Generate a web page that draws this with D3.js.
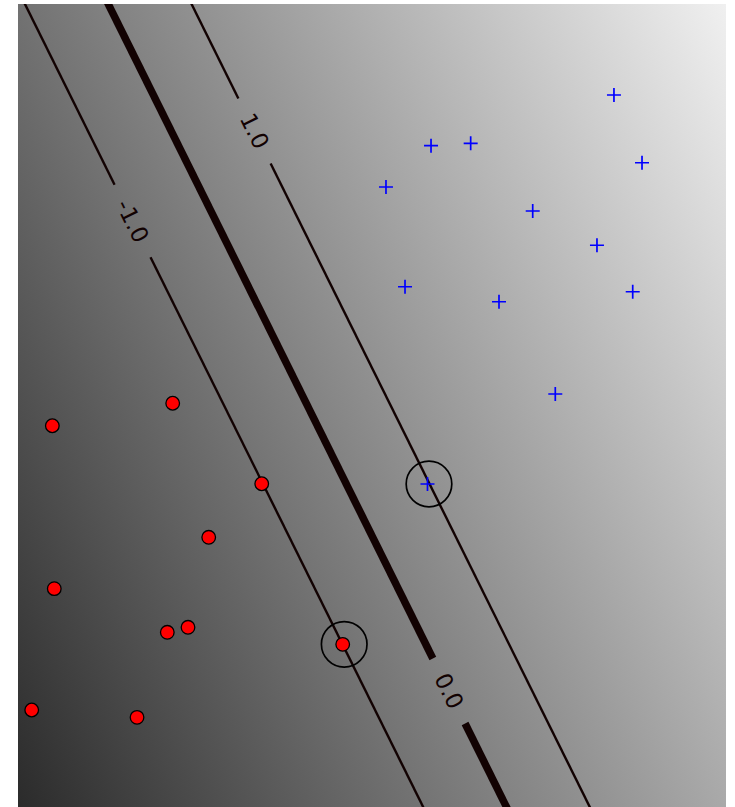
<!DOCTYPE html>
<html>
<head>
<meta charset="utf-8">
<script src="https://cdn.jsdelivr.net/npm/d3@7"></script>
<style>
  html, body { margin: 0; padding: 0; background: #fff; }
  svg { display: block; }
</style>
</head>
<body>
<svg id="chart" width="735" height="807"></svg>
<script>
// Class -1 samples (red dots)
const redX = [-3.612, -2.252, -1.246, -1.845, -3.590, -2.313, -2.079, -0.331, -3.845, -2.655];
const redY = [-0.227, 0.025, -0.877, -1.477, -2.053, -2.542, -2.486, -2.677, -3.413, -3.495];
// Class +1 samples (blue crosses)
const blueX = [2.734, 0.667, 1.115, 3.051, 0.158, 1.816, 2.542, 0.373, 1.435, 2.946, 2.071, 0.627];
const blueY = [3.480, 2.912, 2.939, 2.721, 2.449, 2.180, 1.796, 1.331, 1.163, 1.275, 0.129, -0.880];
// Support vectors
const supportX = [0.627, -0.331];
const supportY = [-0.880, -2.677];
// Linear decision function f(x, y) = coef[0]*x + coef[1]*y + intercept
const coef = [1.0624, 0.5312];
const intercept = 0.776;
// Contour levels and their labels, with the y position where each label sits
const levels = [-1, 0, 1];
const levelLabels = ["-1.0", "0.0", "1.0"];
const labelY = [2.068, -3.20, 3.077];
const levelWidths = [2.4, 7.5, 2.4];
// Range of the gray colour map
const colorDomain = [-8.77, 8.43];
const xDomain = [-4, 4];
const yDomain = [-4.5, 4.5];

const plot = { left: 18, top: 4, right: 726, bottom: 807 };
const svg = d3.select("#chart");

const x = d3.scaleLinear().domain(xDomain).range([plot.left, plot.right]);
const y = d3.scaleLinear().domain(yDomain).range([plot.bottom, plot.top]);
const gray = d3.scaleLinear().domain(colorDomain).range(["#000000", "#ffffff"]);

const decision = (px, py) => coef[0] * px + coef[1] * py + intercept;

const defs = svg.append("defs");
defs.append("clipPath").attr("id", "plot-clip")
  .append("rect")
  .attr("x", plot.left).attr("y", plot.top)
  .attr("width", plot.right - plot.left).attr("height", plot.bottom - plot.top);

// Background shading: the decision function is linear, so a linear gradient
// along its pixel-space gradient reproduces it exactly.
const cx = (plot.left + plot.right) / 2, cy = (plot.top + plot.bottom) / 2;
const f0 = decision(x.invert(cx), y.invert(cy));
const gx = coef[0] * (x.invert(cx + 1) - x.invert(cx));
const gy = coef[1] * (y.invert(cy + 1) - y.invert(cy));
const g2 = gx * gx + gy * gy;
const atValue = v => [cx + gx * (v - f0) / g2, cy + gy * (v - f0) / g2];
const p1 = atValue(colorDomain[0]), p2 = atValue(colorDomain[1]);

const grad = defs.append("linearGradient")
  .attr("id", "decision-fill")
  .attr("gradientUnits", "userSpaceOnUse")
  .attr("x1", p1[0]).attr("y1", p1[1])
  .attr("x2", p2[0]).attr("y2", p2[1]);
grad.append("stop").attr("offset", 0).attr("stop-color", gray(colorDomain[0]));
grad.append("stop").attr("offset", 1).attr("stop-color", gray(colorDomain[1]));

svg.append("rect")
  .attr("x", plot.left).attr("y", plot.top)
  .attr("width", plot.right - plot.left).attr("height", plot.bottom - plot.top)
  .attr("fill", "url(#decision-fill)");

const body = svg.append("g").attr("clip-path", "url(#plot-clip)");

// Contour lines of the decision function with inline labels
const lineColor = "#120202";
const contourG = body.append("g");
levels.forEach((lv, i) => {
  const xAt = yy => (lv - intercept - coef[1] * yy) / coef[0];
  const top = [x(xAt(yDomain[1] + 0.2)), y(yDomain[1] + 0.2)];
  const bot = [x(xAt(yDomain[0] - 0.2)), y(yDomain[0] - 0.2)];
  const dx = bot[0] - top[0], dy = bot[1] - top[1];
  const len = Math.hypot(dx, dy);
  const ux = dx / len, uy = dy / len;
  const angle = Math.atan2(dy, dx) * 180 / Math.PI;
  const c = [x(xAt(labelY[i])), y(labelY[i])];

  const label = contourG.append("text")
    .attr("transform", `translate(${c[0]},${c[1]}) rotate(${angle})`)
    .attr("text-anchor", "middle")
    .attr("dominant-baseline", "central")
    .attr("font-family", "DejaVu Sans, sans-serif")
    .attr("font-size", 23)
    .attr("fill", lineColor)
    .text(levelLabels[i]);
  const half = (label.node().getComputedTextLength() + 36) / 2;

  const segs = [
    [top, [c[0] - ux * half, c[1] - uy * half]],
    [[c[0] + ux * half, c[1] + uy * half], bot]
  ];
  segs.forEach(s => {
    contourG.append("line")
      .attr("x1", s[0][0]).attr("y1", s[0][1])
      .attr("x2", s[1][0]).attr("y2", s[1][1])
      .attr("stroke", lineColor)
      .attr("stroke-width", levelWidths[i]);
  });
});

// Red class points
body.append("g").selectAll("circle")
  .data(d3.range(redX.length))
  .join("circle")
  .attr("cx", i => x(redX[i]))
  .attr("cy", i => y(redY[i]))
  .attr("r", 6.8)
  .attr("fill", "#ff0000")
  .attr("stroke", "#000")
  .attr("stroke-width", 1.3);

// Blue class points
body.append("g").selectAll("path")
  .data(d3.range(blueX.length))
  .join("path")
  .attr("transform", i => `translate(${x(blueX[i])},${y(blueY[i])})`)
  .attr("d", "M-7,0H7M0,-7V7")
  .attr("fill", "none")
  .attr("stroke", "#0000ff")
  .attr("stroke-width", 1.7);

// Support vector rings
body.append("g").selectAll("circle")
  .data(d3.range(supportX.length))
  .join("circle")
  .attr("cx", i => x(supportX[i]) + 1.5)
  .attr("cy", i => y(supportY[i]))
  .attr("r", 22.8)
  .attr("fill", "none")
  .attr("stroke", "#000")
  .attr("stroke-width", 1.7);
</script>
</body>
</html>
